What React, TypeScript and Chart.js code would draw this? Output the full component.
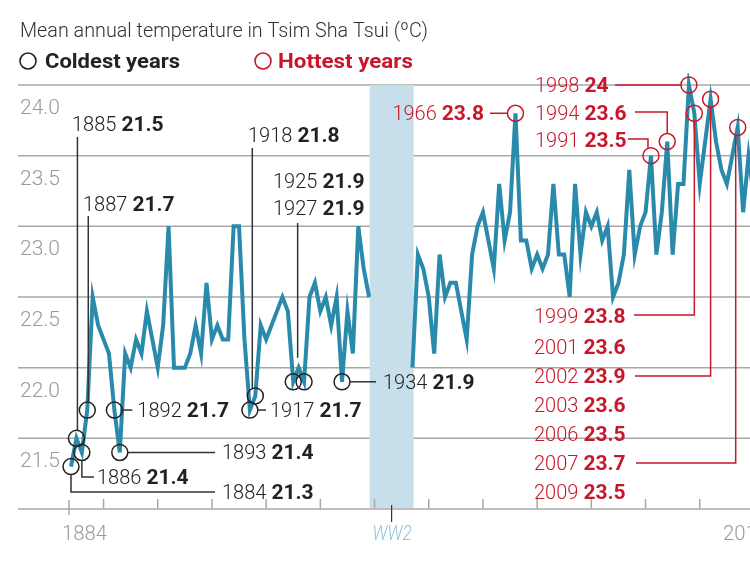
import React, { useEffect, useRef } from 'react';
import { Chart, registerables } from 'chart.js';
Chart.register(...registerables);

// ---------- DATA ----------
const prewarStartYear = 1884;
// 1884 - 1939
const prewarTemps = [
  21.3, 21.5, 21.4, 21.7, 22.5, 22.3, 22.2, 22.1, 21.7, 21.4,
  22.1, 22.0, 22.2, 22.1, 22.4, 22.2, 22.0, 22.3, 23.0, 22.0,
  22.0, 22.0, 22.1, 22.3, 22.1, 22.6, 22.2, 22.3, 22.2, 22.2,
  23.0, 23.0, 22.2, 21.7, 21.8, 22.3, 22.2, 22.3, 22.4, 22.5,
  22.4, 21.9, 22.0, 21.9, 22.5, 22.6, 22.4, 22.5, 22.3, 22.5,
  21.9, 22.4, 22.1, 23.0, 22.7, 22.5,
];
const postwarStartYear = 1947;
// 1947 - 2010
const postwarTemps = [
  22.0, 22.8, 22.7, 22.5, 22.1, 22.8, 22.5, 22.6, 22.6, 22.4,
  22.2, 22.8, 23.0, 23.1, 22.9, 22.7, 23.3, 22.9, 23.1, 23.8,
  22.9, 22.9, 22.7, 22.8, 22.7, 22.8, 23.3, 22.8, 22.8, 22.5,
  23.3, 22.8, 23.1, 23.0, 23.1, 22.9, 23.0, 22.5, 22.6, 22.8,
  23.4, 22.8, 23.0, 23.1, 23.5, 22.8, 23.1, 23.6, 22.8, 23.3,
  23.3, 24.0, 23.8, 23.3, 23.6, 23.9, 23.6, 23.4, 23.3, 23.5,
  23.7, 23.1, 23.5, 23.2,
];
const coldYears = [1884, 1885, 1886, 1887, 1892, 1893, 1917, 1918, 1925, 1927, 1934];
const coldTemps = [21.3, 21.5, 21.4, 21.7, 21.7, 21.4, 21.7, 21.8, 21.9, 21.9, 21.9];
const hotYears = [1966, 1991, 1994, 1998, 1999, 2001, 2002, 2003, 2006, 2007, 2009];
const hotTemps = [23.8, 23.5, 23.6, 24, 23.8, 23.6, 23.9, 23.6, 23.5, 23.7, 23.5];
const hotCircled = [1966, 1991, 1994, 1998, 1999, 2002, 2007];
const yTickValues = [21.5, 22.0, 22.5, 23.0, 23.5, 24.0];
const xDecadeTicks = [1890, 1900, 1910, 1920, 1930, 1940, 1950, 1960, 1970, 1980, 1990, 2000, 2010];
const xEndLabels = ['1884', '2013'];
const warBand = [1939.1, 1947.2];
const warLabel = 'WW2';
const titleText = 'Mean annual temperature in Tsim Sha Tsui (\u00baC)';
const legendLabels = ['Coldest years', 'Hottest years'];

// ---------- STYLE ----------
const TEAL = '#2a8aab';
const RED = '#c8162a';
const INK = '#222222';
const GREY = '#9a9a9a';
const GRID = '#a8a8a8';
const BAND = '#c6dfeb';
const WWBLUE = '#8fc3df';
const LIGHT = '300 20px Roboto, "Open Sans", sans-serif';
const BOLD = 'bold 21px Roboto, "Open Sans", sans-serif';
const R = 8;

function lookup(years: number[], temps: number[], yr: number) {
  return temps[years.indexOf(yr)];
}

function fitText(ctx: CanvasRenderingContext2D, s: string, x: number, y: number, w: number) {
  const m = ctx.measureText(s).width;
  ctx.save();
  ctx.translate(x, y);
  ctx.scale(w / m, 1);
  ctx.fillText(s, 0, 0);
  ctx.restore();
}

function yearVal(ctx: CanvasRenderingContext2D, year: number, val: number, x: number, cy: number, color: string, align: 'left' | 'right' = 'left') {
  const ys = String(year);
  const vs = String(val);
  ctx.font = LIGHT;
  const yw = ctx.measureText(ys).width;
  ctx.font = BOLD;
  const vw = ctx.measureText(vs).width;
  const gap = 5;
  const sx = align === 'left' ? x : x - (yw + gap + vw);
  ctx.fillStyle = color;
  ctx.textAlign = 'left';
  ctx.textBaseline = 'alphabetic';
  ctx.font = LIGHT;
  ctx.fillText(ys, sx, cy + 7);
  ctx.font = BOLD;
  ctx.fillText(vs, sx + yw + gap, cy + 7);
}

function seg(ctx: CanvasRenderingContext2D, pts: number[][]) {
  ctx.beginPath();
  ctx.moveTo(pts[0][0], pts[0][1]);
  for (let i = 1; i < pts.length; i++) ctx.lineTo(pts[i][0], pts[i][1]);
  ctx.stroke();
}

const decorPlugin = {
  id: 'decor',
  beforeDraw(chart: any) {
    const { ctx, width, height } = chart;
    ctx.save();
    ctx.fillStyle = '#ffffff';
    ctx.fillRect(0, 0, width, height);
    ctx.restore();
  },
  beforeDatasetsDraw(chart: any) {
    const { ctx, chartArea: a, scales } = chart;
    const x = scales.x, y = scales.y;
    ctx.save();
    // gridlines
    ctx.strokeStyle = GRID;
    ctx.lineWidth = 1.5;
    for (const v of yTickValues) {
      const yy = y.getPixelForValue(v);
      seg(ctx, [[a.left, yy], [a.right, yy]]);
    }
    // war band
    const b0 = x.getPixelForValue(warBand[0]);
    const b1 = x.getPixelForValue(warBand[1]);
    const top = y.getPixelForValue(24);
    const bot = y.getPixelForValue(21);
    ctx.fillStyle = BAND;
    ctx.fillRect(b0, top, b1 - b0, bot - top - 1);
    // x axis
    ctx.strokeStyle = GRID;
    seg(ctx, [[a.left, bot], [a.right, bot]]);
    for (const t of xDecadeTicks) {
      const xx = x.getPixelForValue(t);
      seg(ctx, [[xx, bot - 10], [xx, bot]]);
    }
    const x0 = x.getPixelForValue(prewarStartYear) - 2;
    seg(ctx, [[x0, bot - 9], [x0, bot + 6]]);
    // y labels
    ctx.fillStyle = GREY;
    ctx.font = '300 21px Roboto, sans-serif';
    ctx.textAlign = 'left';
    ctx.textBaseline = 'alphabetic';
    for (const v of yTickValues) {
      ctx.fillText(v.toFixed(1), a.left + 2, y.getPixelForValue(v) + 29);
    }
    // x labels
    ctx.font = '300 21px Roboto, sans-serif';
    fitText(ctx, xEndLabels[0], 62, bot + 31, 45);
    fitText(ctx, xEndLabels[1], 723, bot + 31, 45);
    // WW2
    ctx.strokeStyle = '#333';
    ctx.lineWidth = 1.2;
    const wx = (b0 + b1) / 2;
    seg(ctx, [[wx, bot - 4], [wx, bot + 13]]);
    ctx.fillStyle = WWBLUE;
    ctx.font = 'italic 300 21px Roboto, sans-serif';
    fitText(ctx, warLabel, wx - 19, bot + 31, 39);
    ctx.restore();
  },
  afterDatasetsDraw(chart: any) {
    const { ctx, scales } = chart;
    const x = scales.x, y = scales.y;
    const P = (yr: number, v: number) => [x.getPixelForValue(yr), y.getPixelForValue(v)];
    ctx.save();
    ctx.lineWidth = 1.5;
    // ----- cold annotations -----
    ctx.strokeStyle = '#333';
    const c = (yr: number) => P(yr, lookup(coldYears, coldTemps, yr));
    let p = c(1885);
    seg(ctx, [[p[0] + 1, 137], [p[0] + 1, p[1] - R]]);
    yearVal(ctx, 1885, lookup(coldYears, coldTemps, 1885), 72, 124, INK);
    p = c(1887);
    seg(ctx, [[p[0] + 1, 216], [p[0] + 1, p[1] - R]]);
    yearVal(ctx, 1887, lookup(coldYears, coldTemps, 1887), 83, 204, INK);
    p = c(1918);
    seg(ctx, [[p[0] - 3, 148], [p[0] - 3, p[1] - Math.sqrt(R * R - 9)]]);
    yearVal(ctx, 1918, lookup(coldYears, coldTemps, 1918), 248, 135, INK);
    const pa = c(1925), pb = c(1927);
    const mx = (pa[0] + pb[0]) / 2 - 1;
    seg(ctx, [[mx, 223], [mx, pa[1] - 24]]);
    yearVal(ctx, 1925, lookup(coldYears, coldTemps, 1925), 273, 181, INK);
    yearVal(ctx, 1927, lookup(coldYears, coldTemps, 1927), 273, 208, INK);
    p = c(1892);
    seg(ctx, [[p[0] + R, p[1]], [p[0] + R + 10, p[1]]]);
    yearVal(ctx, 1892, lookup(coldYears, coldTemps, 1892), p[0] + R + 15, p[1], INK);
    p = c(1893);
    seg(ctx, [[p[0] + R, p[1]], [215, p[1]]]);
    yearVal(ctx, 1893, lookup(coldYears, coldTemps, 1893), 222, p[1], INK);
    p = c(1886);
    seg(ctx, [[p[0], p[1] + R], [p[0], 477], [94, 477]]);
    yearVal(ctx, 1886, lookup(coldYears, coldTemps, 1886), 97, 477, INK);
    p = c(1884);
    seg(ctx, [[p[0], p[1] + R], [p[0], 492], [215, 492]]);
    yearVal(ctx, 1884, lookup(coldYears, coldTemps, 1884), 222, 492, INK);
    p = c(1917);
    seg(ctx, [[p[0] + R, p[1]], [266, p[1]]]);
    yearVal(ctx, 1917, lookup(coldYears, coldTemps, 1917), 270, p[1], INK);
    p = c(1934);
    seg(ctx, [[p[0] + R, p[1]], [376, p[1]]]);
    yearVal(ctx, 1934, lookup(coldYears, coldTemps, 1934), 383, p[1], INK);

    // ----- hot annotations -----
    ctx.strokeStyle = RED;
    const h = (yr: number) => P(yr, lookup(hotYears, hotTemps, yr));
    const hv = (yr: number) => lookup(hotYears, hotTemps, yr);
    p = h(1966);
    seg(ctx, [[490, p[1]], [p[0] - R, p[1]]]);
    yearVal(ctx, 1966, hv(1966), 484, p[1], RED, 'right');
    p = h(1998);
    seg(ctx, [[615, p[1]], [p[0] - R, p[1]]]);
    yearVal(ctx, 1998, hv(1998), 535, p[1], RED);
    p = h(1994);
    seg(ctx, [[635, 112], [p[0], 112], [p[0], p[1] - R]]);
    yearVal(ctx, 1994, hv(1994), 535, 113, RED);
    p = h(1991);
    seg(ctx, [[628, 139], [p[0] - 3, 139], [p[0] - 3, p[1] - Math.sqrt(R * R - 9)]]);
    yearVal(ctx, 1991, hv(1991), 535, 140, RED);
    p = h(1999);
    seg(ctx, [[634, 315], [p[0], 315], [p[0], p[1] + R]]);
    yearVal(ctx, 1999, hv(1999), 534, 316, RED);
    yearVal(ctx, 2001, hv(2001), 534, 347, RED);
    p = h(2002);
    seg(ctx, [[635, 376], [p[0], 376], [p[0], p[1] + R]]);
    yearVal(ctx, 2002, hv(2002), 534, 376, RED);
    yearVal(ctx, 2003, hv(2003), 534, 405, RED);
    yearVal(ctx, 2006, hv(2006), 534, 434, RED);
    p = h(2007);
    seg(ctx, [[636, 463], [p[0] - 2, 463], [p[0] - 2, p[1] + R]]);
    yearVal(ctx, 2007, hv(2007), 534, 463, RED);
    yearVal(ctx, 2009, hv(2009), 534, 492, RED);

    // ----- title & legend -----
    ctx.fillStyle = '#333';
    ctx.textAlign = 'left';
    ctx.textBaseline = 'alphabetic';
    ctx.font = '300 21px Roboto, sans-serif';
    fitText(ctx, titleText, 20, 37, 408);
    ctx.lineWidth = 1.6;
    ctx.strokeStyle = INK;
    ctx.beginPath(); ctx.arc(28, 61, 8, 0, Math.PI * 2); ctx.stroke();
    ctx.fillStyle = INK;
    ctx.font = 'bold 21px Roboto, sans-serif';
    fitText(ctx, legendLabels[0], 45, 68, 135);
    ctx.strokeStyle = RED;
    ctx.beginPath(); ctx.arc(263, 61, 8, 0, Math.PI * 2); ctx.stroke();
    ctx.fillStyle = RED;
    fitText(ctx, legendLabels[1], 278, 68, 135);
    ctx.restore();
  },
};

export default function App() {
  const ref = useRef<HTMLCanvasElement | null>(null);
  useEffect(() => {
    if (!ref.current) return;
    const linePts: { x: number; y: number | null }[] = [];
    prewarTemps.forEach((t, i) => linePts.push({ x: prewarStartYear + i, y: t }));
    linePts.push({ x: (warBand[0] + warBand[1]) / 2, y: null });
    postwarTemps.forEach((t, i) => linePts.push({ x: postwarStartYear + i, y: t }));
    const coldPts = coldYears.map((yr, i) => ({ x: yr, y: coldTemps[i] }));
    const hotPts = hotYears
      .map((yr, i) => ({ x: yr, y: hotTemps[i] }))
      .filter((pt) => hotCircled.includes(pt.x));
    const chart = new Chart(ref.current, {
      type: 'line',
      data: {
        datasets: [
          {
            label: 'hot',
            data: hotPts,
            showLine: false,
            pointRadius: R,
            pointBorderWidth: 1.5,
            pointBorderColor: RED,
            pointBackgroundColor: 'rgba(0,0,0,0)',
            clip: 12,
          },
          {
            label: 'cold',
            data: coldPts,
            showLine: false,
            pointRadius: R,
            pointBorderWidth: 1.5,
            pointBorderColor: INK,
            pointBackgroundColor: 'rgba(0,0,0,0)',
            clip: 12,
          },
          {
            label: 'temp',
            data: linePts,
            borderColor: TEAL,
            borderWidth: 4,
            pointRadius: 0,
            pointHoverRadius: 0,
            tension: 0,
            spanGaps: false,
            clip: 12,
          },
        ],
      } as any,
      options: {
        animation: false,
        responsive: false,
        devicePixelRatio: 1,
        events: [],
        layout: { autoPadding: false, padding: { left: 18, right: 0, top: 85, bottom: 53 } },
        plugins: { legend: { display: false }, tooltip: { enabled: false } },
        scales: {
          x: { type: 'linear', min: 1874.22, max: 2009.27, display: false },
          y: { type: 'linear', min: 21, max: 24, display: false },
        },
      } as any,
      plugins: [decorPlugin],
    });
    return () => chart.destroy();
  }, []);
  return (
    <div style={{ position: 'fixed', left: 0, top: 0, width: 750, height: 562, overflow: 'hidden', background: '#fff' }}>
      <canvas ref={ref} width={750} height={562} style={{ display: 'block', width: 750, height: 562 }} />
    </div>
  );
}
